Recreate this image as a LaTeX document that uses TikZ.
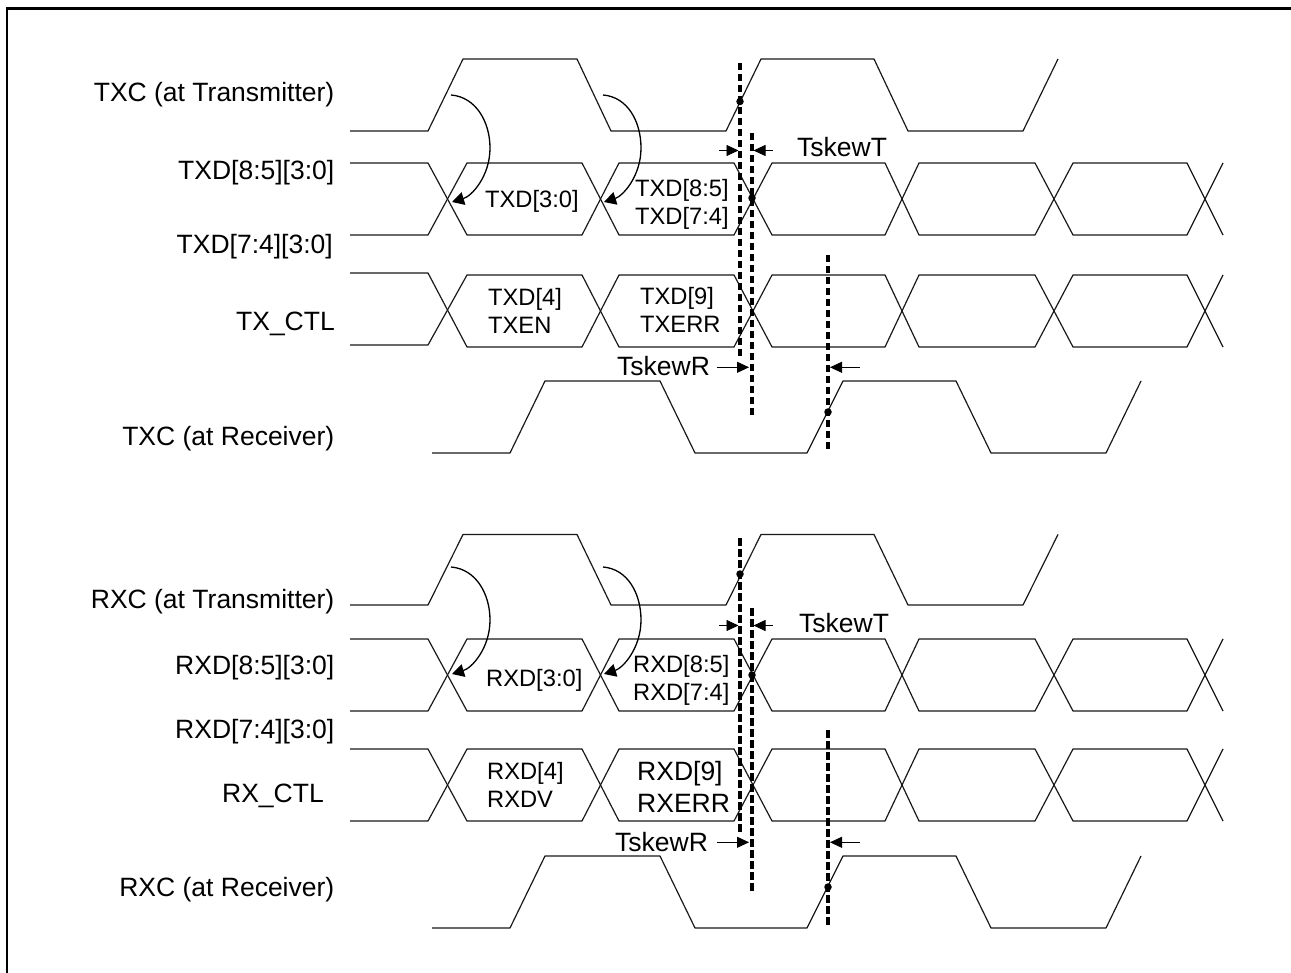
\documentclass[tikz,border=0pt]{standalone}
\usepackage{fontspec}
\setmainfont{Liberation Sans}
\usetikzlibrary{arrows.meta}
\tikzset{
  x=1pt,y=-1pt,
  sig/.style={line width=1.2pt,line join=round,draw=black!90},
  frm/.style={line width=2.2pt},
  dsh/.style={line width=3.3pt,dash pattern=on 7.5pt off 3.5pt},
  curv/.style={line width=1.3pt,-{Triangle[length=12pt,width=13pt]}},
  marr/.style={line width=0.8pt,-{Triangle[length=12pt,width=11pt]}},
  lab/.style={font=\fontsize{26.5}{30}\selectfont,anchor=base east,inner sep=0pt},
  inl/.style={font=\fontsize{23.7}{26}\selectfont,inner sep=0pt,anchor=base west},
  big/.style={font=\fontsize{26.5}{30}\selectfont,inner sep=0pt,anchor=base west},
  dotm/.style={circle,fill=black,inner sep=0pt,minimum size=7.5pt},
}
\begin{document}
\begin{tikzpicture}
\useasboundingbox (0,0) rectangle (1291,973);
\coordinate (fa) at (7,973);\coordinate (fb) at (7,8.5);\coordinate (fc) at (1291,8.5);
\draw[frm] (fa) -- (fb) -- (fc);
% transmitter clocks
\foreach \h/\l in {59/131,534.5/605}{
\draw[sig] (350,\l)--(428,\l)--(463,\h)--(577,\h)--(611,\l)--(726,\l)--(761,\h)--(874,\h)--(908,\l)--(1023,\l)--(1058,\h);
}
% data buses
\foreach \t/\b/\tl/\bl in {163/235/163/235,275/347/273/345,639/711/639/711,749/821/749/821}{
\draw[sig] (350,\tl)--(428,\tl)--(467,\b)--(582,\b)--(619,\t)--(734,\t)--(772,\b)--(885,\b)--(919,\t)--(1035,\t)--(1073,\b)--(1187,\b)--(1223,\t);
\draw[sig] (350,\bl)--(428,\bl)--(467,\t)--(582,\t)--(619,\b)--(734,\b)--(772,\t)--(885,\t)--(919,\b)--(1035,\b)--(1073,\t)--(1187,\t)--(1223,\b);
}
% receiver clocks
\foreach \h/\l in {381/453,856/928}{
\draw[sig] (432,\l)--(510,\l)--(545,\h)--(660,\h)--(695,\l)--(807,\l)--(843,\h)--(956,\h)--(991,\l)--(1106,\l)--(1141,\h);
}
% curved arrows and markers
\foreach \o/\c/\e/\f in {0/0/0/0,475/472/472.5/477}{
\begin{scope}[yshift=-\c pt]
\coordinate (a1) at (451,95);\coordinate (b1) at (452,202);
\coordinate (a2) at (603,95);\coordinate (b2) at (604,202);
\draw[curv] (a1) .. controls (476,97) and (490,122) .. (490,148) .. controls (490,176) and (472,196) .. (b1);
\draw[curv] (a2) .. controls (628,97) and (641,122) .. (641,148) .. controls (641,176) and (623,196) .. (b2);
\end{scope}
\begin{scope}[yshift=-\o pt]
\coordinate (d1a) at (740,63);\coordinate (d1b) at (740,358);
\coordinate (d2a) at (752,133);\coordinate (d2b) at (752,419);
\coordinate (d3a) at (828,255);\coordinate (d3b) at (828,453);
\draw[dsh] (d1a)--(d1b);
\draw[dsh] (d2a)--(d2b);
\draw[dsh] (d3a)--(d3b);
\node[dotm] (p3) at (828,412) {};
\coordinate (s1) at (719,150.5);\coordinate (e1) at (738.5,150.5);
\coordinate (s2) at (773,150.5);\coordinate (e2) at (753.5,150.5);
\coordinate (s3) at (717,367.3);\coordinate (e3) at (749,367.3);
\coordinate (s4) at (860,367.3);\coordinate (e4) at (830,367.3);
\draw[marr] (s1)--(e1);
\draw[marr] (s2)--(e2);
\draw[marr] (s3)--(e3);
\draw[marr] (s4)--(e4);
\end{scope}
\begin{scope}[yshift=-\e pt]\node[dotm] (p1) at (740,101.5) {};\end{scope}
\begin{scope}[yshift=-\f pt]\node[dotm] (p2) at (752,198) {};\end{scope}
}
% left labels
\node[lab] (l1) at (334.5,102) {TXC (at Transmitter)};
\node[lab] (l2) at (334.5,180) {TXD[8:5][3:0]};
\node[lab] (l3) at (333,254) {TXD[7:4][3:0]};
\node[lab] (l4) at (335,331) {TX\_CTL};
\node[lab] (l5) at (334.5,446) {TXC (at Receiver)};
\node[lab] (l6) at (334.5,608) {RXC (at Transmitter)};
\node[lab] (l7) at (334.5,674) {RXD[8:5][3:0]};
\node[lab] (l8) at (334.5,738) {RXD[7:4][3:0]};
\node[lab] (l9) at (324,802) {RX\_CTL};
\node[lab] (l10) at (334.5,896) {RXC (at Receiver)};
% inner labels
\node[inl] (i1) at (485,208) {TXD[3:0]};
\node[inl] (i2) at (635,197) {TXD[8:5]};
\node[inl] (i2b) at (635,225) {TXD[7:4]};
\node[inl] (i3) at (488,306) {TXD[4]};
\node[inl] (i3b) at (488,334) {TXEN};
\node[inl] (i4) at (640,305) {TXD[9]};
\node[inl] (i4b) at (640,333) {TXERR};
\node[inl] (i5) at (486,686) {RXD[3:0]};
\node[inl] (i6) at (633,672) {RXD[8:5]};
\node[inl] (i6b) at (633,700) {RXD[7:4]};
\node[inl] (i7) at (487,779) {RXD[4]};
\node[inl] (i7b) at (487,807) {RXDV};
\node[big] (i8) at (637,780) {RXD[9]};
\node[big] (i8b) at (637,812) {RXERR};
\node[big] (t1) at (797,157) {TskewT};
\node[big] (t2) at (799,632) {TskewT};
\node[big] (t3) at (617,376) {TskewR};
\node[big] (t4) at (615,851) {TskewR};
\end{tikzpicture}
\end{document}
